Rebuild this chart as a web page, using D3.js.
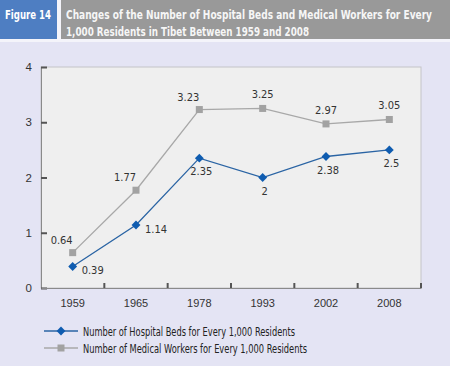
<!DOCTYPE html>
<html>
<head>
<meta charset="utf-8">
<script src="https://cdn.jsdelivr.net/npm/d3@7"></script>
<style>
  html, body { margin: 0; padding: 0; background: #e4e4f4; }
  svg { display: block; font-family: "Liberation Sans Narrow", "DejaVu Sans Condensed", sans-serif; }
</style>
</head>
<body>
<div id="chart"></div>
<script>
// data
let years = ['1959', '1965', '1978', '1993', '2002', '2008'];
let beds = [0.39, 1.14, 2.35, 2, 2.38, 2.5];
let workers = [0.64, 1.77, 3.23, 3.25, 2.97, 3.05];
let yTicks = [0, 1, 2, 3, 4];
let seriesNames = [
  'Number of Hospital Beds for Every 1,000 Residents',
  'Number of Medical Workers for Every 1,000 Residents'
];
// where each value label sits relative to its point
let bedsLabelPos = ['r', 'r', 'd', 'd', 'd', 'd'];
let workersLabelPos = ['ul', 'ul', 'ul', 'u', 'u', 'u'];

let W = 450, H = 366;
let margin = {top: 67, right: 29, bottom: 78, left: 41},
    width = W - margin.left - margin.right,
    height = H - margin.top - margin.bottom;

let svg = d3.select('#chart').append('svg')
    .attr('width', W)
    .attr('height', H);

// background + header
svg.append('rect').attr('width', W).attr('height', H).attr('fill', '#e4e4f4');
svg.append('rect').attr('x', 0).attr('y', 0).attr('width', W).attr('height', 42).attr('fill', '#f4f4fa');
svg.append('rect').attr('x', 0).attr('y', 0).attr('width', 57).attr('height', 39).attr('fill', '#4e7ec2');
svg.append('rect').attr('x', 61).attr('y', 0).attr('width', W - 61).attr('height', 39).attr('fill', '#999999');

svg.append('text')
    .attr('x', 5).attr('y', 19)
    .attr('fill', '#ffffff')
    .attr('font-weight', 'bold')
    .attr('font-size', 13)
    .attr('textLength', 46).attr('lengthAdjust', 'spacingAndGlyphs')
    .text('Figure 14');

let titleLines = [
  'Changes of the Number of Hospital Beds and Medical Workers for Every',
  '1,000 Residents in Tibet Between 1959 and 2008'
];
let titleWidths = [366, 243];
titleLines.forEach(function(t, i) {
  svg.append('text')
      .attr('x', 66).attr('y', 19 + i * 17)
      .attr('fill', '#f6f6f6')
      .attr('font-weight', 'bold')
      .attr('font-size', 12.5)
      .attr('textLength', titleWidths[i]).attr('lengthAdjust', 'spacingAndGlyphs')
      .text(t);
});

let g = svg.append('g')
    .attr('transform', `translate(${margin.left},${margin.top})`);

// plot area
g.append('rect')
    .attr('width', width).attr('height', height)
    .attr('fill', '#efefef')
    .attr('stroke', '#c4c4c8');

let x = d3.scaleBand()
    .domain(years)
    .range([0, width]);

let y = d3.scaleLinear()
    .domain([0, 4])
    .range([height, 0]);

// y axis: ticks drawn inward
let yAxis = g.append('g')
    .call(d3.axisLeft(y).tickValues(yTicks).tickSize(-6).tickPadding(9).tickFormat(d3.format('d')));
yAxis.select('.domain').attr('stroke', '#8a8a8a');
yAxis.selectAll('.tick line').attr('stroke', '#555').attr('stroke-width', 2);
yAxis.selectAll('.tick text').attr('fill', '#333').attr('font-size', 11.5).attr('font-family', 'inherit');

// x axis: category labels, ticks between categories
let xAxis = g.append('g')
    .attr('transform', `translate(0,${height})`)
    .call(d3.axisBottom(x).tickSize(0).tickPadding(11));
xAxis.select('.domain').attr('stroke', '#8a8a8a');
xAxis.selectAll('.tick text').attr('fill', '#333').attr('font-size', 11).attr('font-family', 'inherit');

let bounds = years.slice(1).map(function(d) { return x(d); }).concat([width]);
g.append('g').selectAll('line')
    .data(bounds)
    .enter().append('line')
    .attr('x1', function(d) { return d; })
    .attr('x2', function(d) { return d; })
    .attr('y1', height)
    .attr('y2', height - 5)
    .attr('stroke', '#555')
    .attr('stroke-width', 2);

let cx = function(d, i) { return x(years[i]) + x.bandwidth() / 2; };

let line = d3.line()
    .x(function(d, i) { return cx(d, i); })
    .y(function(d) { return y(d); });

// medical workers (grey squares)
g.append('path')
    .datum(workers)
    .attr('fill', 'none')
    .attr('stroke', '#a8a8a8')
    .attr('stroke-width', 1.3)
    .attr('d', line);

g.append('g').selectAll('rect')
    .data(workers)
    .enter().append('rect')
    .attr('x', function(d, i) { return cx(d, i) - 3.5; })
    .attr('y', function(d) { return y(d) - 3.5; })
    .attr('width', 7).attr('height', 7)
    .attr('fill', '#a2a2a2');

// hospital beds (blue diamonds)
g.append('path')
    .datum(beds)
    .attr('fill', 'none')
    .attr('stroke', '#2a64a4')
    .attr('stroke-width', 1.3)
    .attr('d', line);

let diamond = d3.symbol().type(d3.symbolDiamond2).size(50);
g.append('g').selectAll('path')
    .data(beds)
    .enter().append('path')
    .attr('d', diamond)
    .attr('transform', function(d, i) { return `translate(${cx(d, i)},${y(d)})`; })
    .attr('fill', '#0f5cb0');

// value labels
let offsets = {
  ul: {dx: -11, dy: -9, anchor: 'middle'},
  u:  {dx: 0, dy: -10, anchor: 'middle'},
  r:  {dx: 9, dy: 8, anchor: 'start'},
  d:  {dx: 2, dy: 17, anchor: 'middle'}
};

function addLabels(values, pos) {
  g.append('g').selectAll('text')
      .data(values)
      .enter().append('text')
      .attr('x', function(d, i) { return cx(d, i) + offsets[pos[i]].dx; })
      .attr('y', function(d, i) { return y(d) + offsets[pos[i]].dy; })
      .attr('text-anchor', function(d, i) { return offsets[pos[i]].anchor; })
      .attr('font-size', 11)
      .attr('fill', '#333')
      .text(function(d) { return d; });
}
addLabels(workers, workersLabelPos);
addLabels(beds, bedsLabelPos);

// legend
let legend = svg.append('g').attr('transform', 'translate(44,331)');

legend.append('line')
    .attr('x1', 0).attr('x2', 34).attr('y1', 0).attr('y2', 0)
    .attr('stroke', '#2a64a4').attr('stroke-width', 1.3);
legend.append('path')
    .attr('d', diamond)
    .attr('transform', 'translate(17,0)')
    .attr('fill', '#0f5cb0');
legend.append('text')
    .attr('x', 39).attr('y', 5)
    .attr('font-size', 12).attr('fill', '#222')
    .attr('textLength', 212).attr('lengthAdjust', 'spacingAndGlyphs')
    .text(seriesNames[0]);

legend.append('line')
    .attr('x1', 0).attr('x2', 34).attr('y1', 17).attr('y2', 17)
    .attr('stroke', '#a8a8a8').attr('stroke-width', 1.3);
legend.append('rect')
    .attr('x', 13.5).attr('y', 13.5).attr('width', 7).attr('height', 7)
    .attr('fill', '#a2a2a2');
legend.append('text')
    .attr('x', 39).attr('y', 22)
    .attr('font-size', 12).attr('fill', '#222')
    .attr('textLength', 224).attr('lengthAdjust', 'spacingAndGlyphs')
    .text(seriesNames[1]);
</script>
</body>
</html>
